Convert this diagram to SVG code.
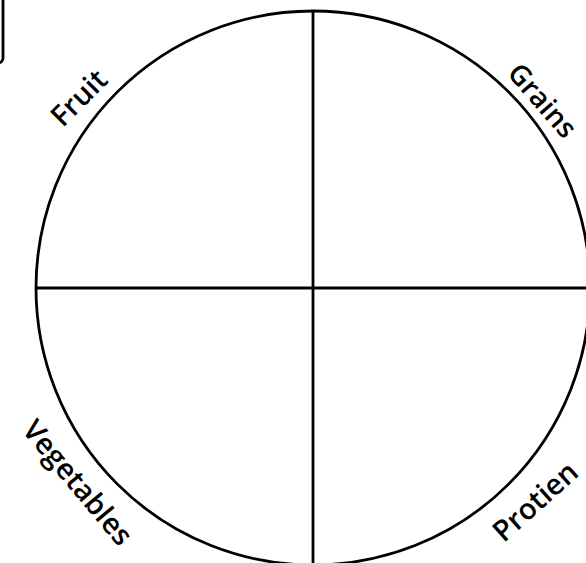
<svg xmlns="http://www.w3.org/2000/svg" width="586" height="563" viewBox="0 0 586 563">
<style>
.ln{fill:none;stroke:#000;stroke-width:2.8}
.lbl{font-family:"Open Sans","Noto Sans",sans-serif;font-size:29px;font-weight:600;fill:#000;text-anchor:middle}
</style>
<rect width="586" height="563" fill="#fff"/>
<g id="box"><rect class="ln" x="-60" y="-10" width="63" height="73" rx="5"/></g>
<g id="plate"><circle class="ln" cx="313" cy="288" r="277"/></g>
<g id="connectors">
<line class="ln" x1="313" y1="11" x2="313" y2="565"/>
<line class="ln" x1="36" y1="288" x2="590" y2="288"/>
</g>
<g id="fruit"><text class="lbl" transform="translate(86,105) rotate(-45)">Fruit</text></g>
<g id="grains"><text class="lbl" style="font-size:28px" transform="translate(535,107) rotate(49)">Grains</text></g>
<g id="vegetables"><text class="lbl" transform="translate(70,489) rotate(50)">Vegetables</text></g>
<g id="protien"><text class="lbl" transform="translate(542,509) rotate(-42)">Protien</text></g>
</svg>
